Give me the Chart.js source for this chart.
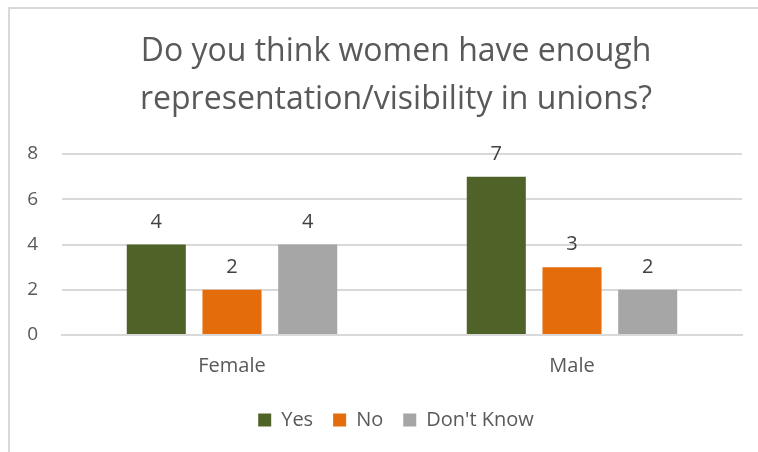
<!DOCTYPE html>
<html>
<head>
<meta charset="utf-8">
<script src="https://cdn.jsdelivr.net/npm/chart.js@4/dist/chart.umd.min.js"></script>
<style>
  html, body { margin: 0; padding: 0; background: #fff; overflow: hidden; }
  #box {
    position: absolute; left: 8px; top: 7px;
    width: 772px; height: 460px;
    border: 2px solid #d9d9d9;
  }
</style>
</head>
<body>
<div id="box"><canvas id="unionChart"></canvas></div>
<script>
const categories = ['Female', 'Male'];
const yesValues = [4, 7];
const noValues = [2, 3];
const dontKnowValues = [4, 2];
const titleLines = ['Do you think women have enough', 'representation/visibility in unions?'];

const FONT = "'Open Sans', 'Liberation Sans', sans-serif";

// writes each bar's value just above it
const valueLabels = {
  id: 'valueLabels',
  afterDatasetsDraw(chart) {
    const ctx = chart.ctx;
    ctx.save();
    ctx.font = '20px ' + FONT;
    ctx.fillStyle = '#404040';
    ctx.textAlign = 'center';
    ctx.textBaseline = 'alphabetic';
    chart.data.datasets.forEach((ds, i) => {
      chart.getDatasetMeta(i).data.forEach((bar, j) => {
        ctx.fillText(ds.data[j], bar.x, bar.y - 17);
      });
    });
    ctx.restore();
  }
};

new Chart(document.getElementById('unionChart'), {
  type: 'bar',
  data: {
    labels: categories,
    datasets: [
      { label: 'Yes', data: yesValues, backgroundColor: '#4f6228' },
      { label: 'No', data: noValues, backgroundColor: '#e46c0a' },
      { label: "Don't Know", data: dontKnowValues, backgroundColor: '#a6a6a6' }
    ]
  },
  options: {
    responsive: true,
    maintainAspectRatio: false,
    animation: false,
    datasets: {
      bar: { categoryPercentage: 0.668, barPercentage: 0.78 }
    },
    layout: { padding: { top: 12, right: 0, left: 0, bottom: 29 } },
    plugins: {
      title: {
        display: true,
        text: titleLines,
        color: '#595959',
        font: { family: FONT, size: 32, weight: 'normal', lineHeight: 1.5 },
        padding: { top: 7, bottom: 30 }
      },
      legend: {
        position: 'bottom',
        labels: {
          color: '#595959',
          font: { family: FONT, size: 20 },
          boxWidth: 13,
          boxHeight: 13,
          padding: 20
        }
      },
      tooltip: { enabled: false }
    },
    scales: {
      x: {
        grid: { display: false },
        border: { display: true, color: '#d9d9d9', width: 2 },
        ticks: { color: '#595959', font: { family: FONT, size: 20 }, padding: 11 },
        afterFit: s => { s.height = 55; }
      },
      y: {
        min: 0,
        max: 8,
        ticks: { stepSize: 2, color: '#595959', font: { family: FONT, size: 19 }, padding: 24 },
        grid: { color: '#d9d9d9', lineWidth: 2, drawTicks: false },
        border: { display: false },
        afterFit: s => { s.width = 52; }
      },
      // empty strip on the right so the plot stops short of the frame edge
      gap: {
        position: 'right',
        ticks: { display: false },
        grid: { display: false },
        border: { display: false },
        afterFit: s => { s.width = 40; }
      }
    }
  },
  plugins: [valueLabels]
});
</script>
</body>
</html>
